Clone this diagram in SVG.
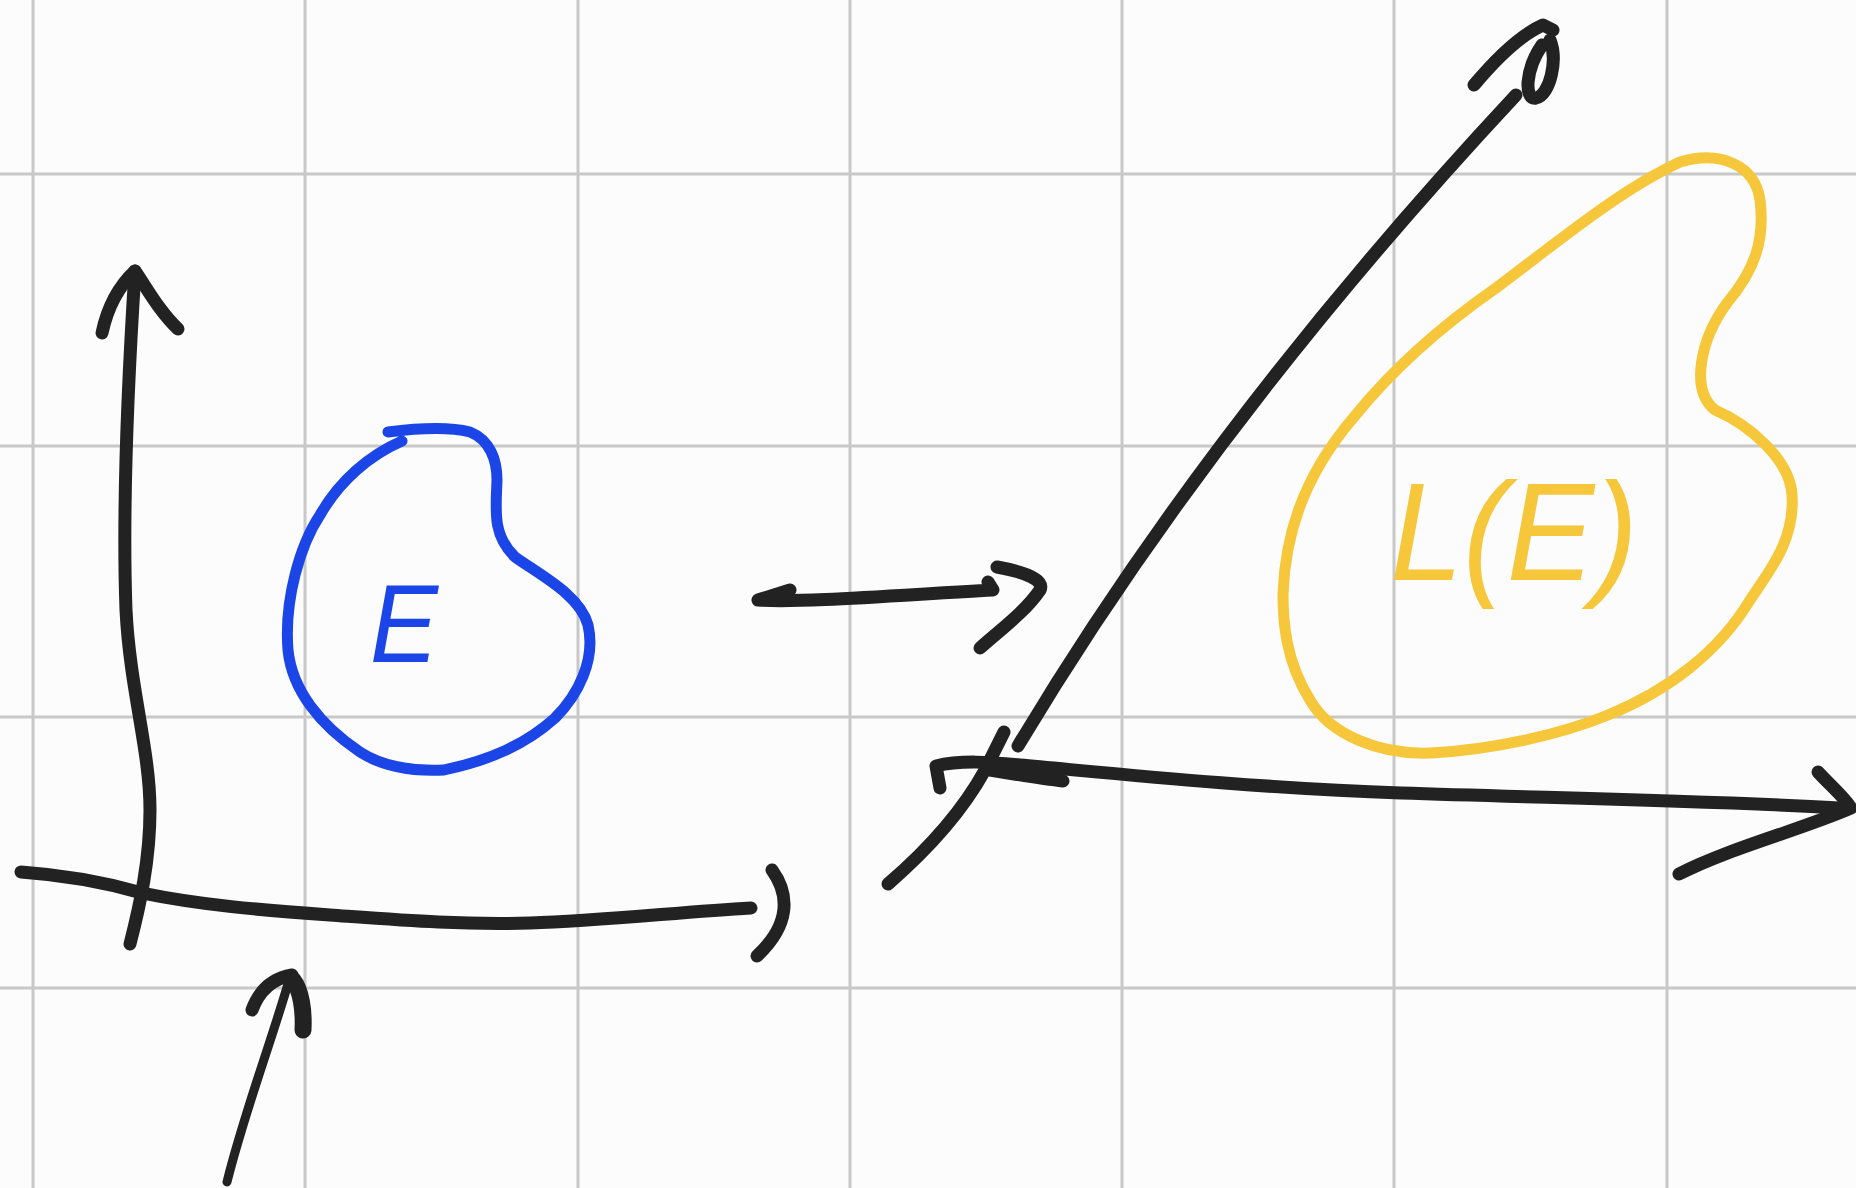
<svg xmlns="http://www.w3.org/2000/svg" width="1856" height="1188" viewBox="0 0 1856 1188">
<style>
.grid{stroke:#c8c8c8;stroke-width:3;fill:none}
.ink{stroke:#222;stroke-width:13;fill:none;stroke-linecap:round;stroke-linejoin:round}
.blue{stroke:#1b45e6;stroke-width:11;fill:none;stroke-linecap:round;stroke-linejoin:round}
.yellow{stroke:#f6c73b;stroke-width:11;fill:none;stroke-linecap:round;stroke-linejoin:round}
.hand{font-family:"Liberation Sans","DejaVu Sans",sans-serif;font-style:italic}
</style>
<rect width="1856" height="1188" fill="#fcfcfc"/>
<g id="grid">
<path class="grid" d="M33,0V1188M305,0V1188M578,0V1188M850,0V1188M1122,0V1188M1394,0V1188M1667,0V1188M0,174H1856M0,446H1856M0,717H1856M0,988H1856"/>
</g>
<g id="left-axes">
<path class="ink" d="M130,944 C140,905 150,860 150,810 C150,750 130,690 126,610 C122,500 128,380 135,271"/>
<path class="ink" d="M102,333 C108,305 120,285 135,271 C148,290 160,312 178,329"/>
<path class="ink" d="M21,872 C50,874 90,878 142,893 C200,905 260,910 330,915 C400,920 460,925 530,923 C600,921 680,912 751,908"/>
<path class="ink" d="M772,870 C790,895 790,925 757,956"/>
</g>
<g id="pointer-arrow">
<path class="ink" style="stroke-width:9" d="M227,1182 C245,1110 272,1040 290,977"/>
<path class="ink" d="M252,1010 C260,988 275,978 292,975"/>
<path class="ink" style="stroke-width:17" d="M293,980 C301,990 304,1010 303,1030"/>
</g>
<g id="node-E">
<path class="blue" d="M388,432 C420,428 450,427 470,432 C490,440 497,460 497,480 C496,510 492,535 515,557 C540,575 580,595 588,625 C596,660 578,695 555,718 C525,745 490,760 444,770 C410,772 380,765 360,752 C320,725 292,690 288,650 C284,600 300,545 320,515 C340,480 370,455 402,441"/>
<text class="hand" x="370" y="662" font-size="112" fill="#1b45e6" textLength="68" lengthAdjust="spacingAndGlyphs">E</text>
</g>
<g id="right-axes">
<path class="ink" d="M888,884 C925,852 962,812 985,770 L1004,732"/>
<path class="ink" d="M1018,746 Q1213,420 1516,95"/>
<path class="ink" d="M1474,85 C1495,60 1520,35 1543,25 L1553,30"/>
<path class="ink" d="M1550,40 C1558,60 1550,95 1536,98 C1524,100 1525,70 1542,45"/>
<path class="ink" d="M940,788 L936,766 C960,760 990,762 1020,765 C1100,772 1250,788 1401,793 C1550,798 1700,800 1839,808"/>
<path class="ink" d="M990,770 C1020,775 1045,779 1063,781"/>
<path class="ink" d="M1818,772 C1830,785 1845,798 1851,808 C1800,830 1730,848 1679,874"/>
</g>
<g id="node-LE">
<path class="yellow" d="M1680,162 C1720,150 1755,165 1760,200 C1765,240 1755,270 1727,303 C1700,340 1690,390 1715,410 C1750,425 1790,460 1792,495 C1795,540 1770,570 1750,600 C1720,650 1670,690 1608,715 C1560,735 1490,750 1431,753 C1380,755 1330,735 1310,700 C1285,660 1283,620 1283,594 C1285,540 1300,480 1354,417 C1400,360 1450,320 1496,288 C1560,240 1620,190 1680,162 Z"/>
<text class="hand" x="1390" y="580" font-size="140" fill="#f6c73b" textLength="248" lengthAdjust="spacingAndGlyphs">L(E)</text>
</g>
<g id="connectors">
<path class="ink" d="M790,590 L758,600 C800,603 900,595 993,590 L988,582"/>
<path class="ink" d="M997,567 C1025,572 1045,580 1040,590 C1025,612 1000,630 980,648"/>
</g>
</svg>
